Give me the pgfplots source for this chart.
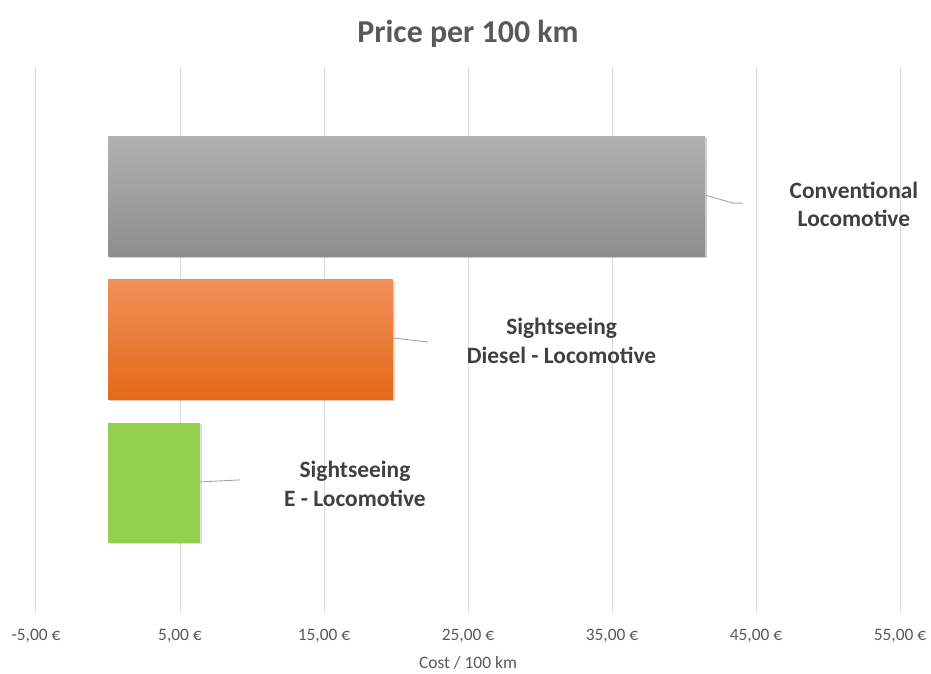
\documentclass[border=0pt]{standalone}
\usepackage{fontspec}
\setmainfont{Carlito}
\usepackage{pgfplots}
\pgfplotsset{compat=1.18}
\usetikzlibrary{shadows}

\definecolor{gridgray}{HTML}{D9D9D9}
\definecolor{textgray}{HTML}{595959}
\definecolor{labelgray}{HTML}{404040}
\definecolor{leadergray}{HTML}{A6A6A6}
\definecolor{greyTop}{HTML}{B1B1B1}
\definecolor{greyBot}{HTML}{8E8E8E}
\definecolor{orTop}{HTML}{F0905A}
\definecolor{orMid}{HTML}{F47C2A}
\definecolor{orBot}{HTML}{E36A18}
\definecolor{green}{HTML}{92D050}

\begin{document}
\begin{tikzpicture}
\begin{axis}[
    name=ax,
    scale only axis,
    width=864bp, height=545bp,
    xmin=-5, xmax=55,
    ymin=0.1, ymax=3.9,
    xtick={-5,5,15,25,35,45,55},
    xticklabels={{-5,00 €},{5,00 €},{15,00 €},{25,00 €},{35,00 €},{45,00 €},{55,00 €}},
    ytick=\empty,
    xmajorgrids,
    grid style={gridgray, line width=1bp},
    axis line style={draw=none},
    tick style={draw=none},
    xticklabel style={font=\fontsize{17.5}{21}\selectfont, text=textgray, anchor=base, yshift=-29bp},
    xlabel={Cost / 100 km},
    xlabel style={font=\fontsize{17.5}{21}\selectfont, text=textgray, at={(0.5,0)}, anchor=base, yshift=-57bp},
    title={\textbf{Price per 100 km}},
    title style={font=\fontsize{32}{37}\selectfont, text=textgray, at={(0.5,1)}, anchor=base, yshift=19bp},
    xbar, bar width=0.836, bar shift=0pt,
    clip=false,
]
\addplot[draw=none, top color=greyTop, bottom color=greyBot,
    drop shadow={shadow xshift=1.5bp, shadow yshift=-1.5bp, opacity=0.25}]
    coordinates {(41.46,3)};
\addplot[draw=none, top color=orTop, middle color=orMid, bottom color=orBot,
    drop shadow={shadow xshift=1.5bp, shadow yshift=-1.5bp, opacity=0.25}]
    coordinates {(19.79,2)};
\addplot[draw=none, fill=green,
    drop shadow={shadow xshift=1.5bp, shadow yshift=-1.5bp, opacity=0.25}]
    coordinates {(6.39,1)};

% leader lines
\draw[leadergray, line width=0.9bp] (axis cs:41.46,3.007) -- (axis cs:43.4,2.951) -- (axis cs:44.1,2.951);
\draw[leadergray, line width=0.9bp] (axis cs:19.79,2.01) -- (axis cs:22.2,1.983);
\draw[leadergray, line width=0.9bp] (axis cs:6.39,1.007) -- (axis cs:9.17,1.021);

% data labels
\tikzset{lbl/.style={align=center, text=labelgray, font=\bfseries\fontsize{23.5}{28.5}\selectfont}}
\node[lbl] at (axis cs:51.8,2.944) {Conventional\\Locomotive};
\node[lbl] at (axis cs:31.5,1.99) {Sightseeing\\Diesel - Locomotive};
\node[lbl] at (axis cs:17.15,0.993) {Sightseeing\\E - Locomotive};
\end{axis}
\pgfresetboundingbox
\path[use as bounding box] ([shift={(-36bp,-62bp)}]ax.south west) rectangle ([shift={(31bp,67bp)}]ax.north east);
\end{tikzpicture}
\end{document}
